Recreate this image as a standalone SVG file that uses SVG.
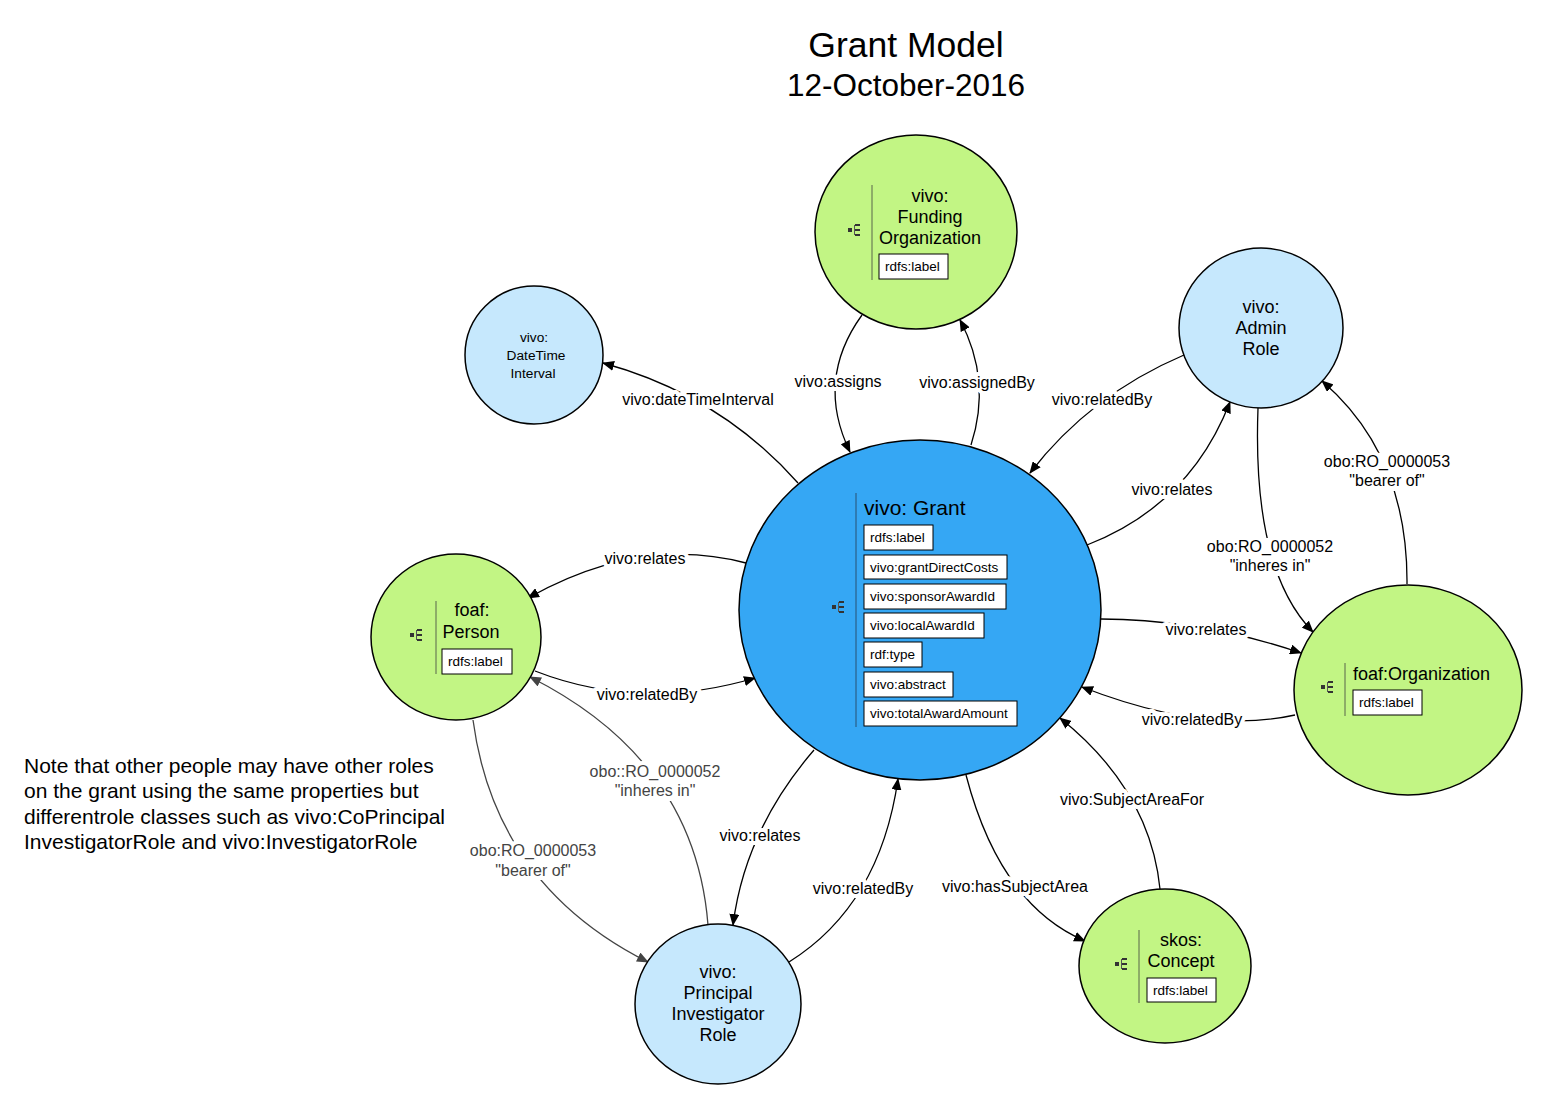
<svg xmlns="http://www.w3.org/2000/svg" width="1554" height="1109" viewBox="0 0 1554 1109">
<defs>
<marker id="ah" viewBox="0 0 12 10" refX="11" refY="5" markerWidth="12" markerHeight="10" markerUnits="userSpaceOnUse" orient="auto"><path d="M0,0 L12,5 L0,10 z" fill="#000"/></marker>
<marker id="ahg" viewBox="0 0 12 10" refX="11" refY="5" markerWidth="12" markerHeight="10" markerUnits="userSpaceOnUse" orient="auto"><path d="M0,0 L12,5 L0,10 z" fill="#444"/></marker>
<g id="icon"><rect x="-9" y="-2" width="4" height="4" fill="#333"/><rect x="-3" y="-5" width="1" height="10" fill="#555"/><rect x="-2" y="-6" width="5" height="2" fill="#333"/><rect x="-2" y="-1" width="5" height="2" fill="#333"/><rect x="-2" y="4" width="5" height="2" fill="#333"/></g>
</defs>
<style>
text{font-family:"Liberation Sans",Arial,sans-serif;fill:#000}
.node{stroke:#000;stroke-width:1.5}
.grant{fill:#35A7F4}
.lb{fill:#C6E8FD}
.gr{fill:#C2F584}
.vl{stroke:#6b7d55;stroke-width:1.2}
.vlb{stroke:#2a5f86;stroke-width:1.2}
.box{fill:#fff;stroke:#000;stroke-width:1}
.bt{font-size:13.5px}
.nt{font-size:18px;text-anchor:middle}
.e{fill:none;stroke:#000;stroke-width:1.3;marker-end:url(#ah)}
.eg{fill:none;stroke:#444;stroke-width:1.3;marker-end:url(#ahg)}
.el{font-size:16px;text-anchor:middle;paint-order:stroke;stroke:#fff;stroke-width:8px;stroke-linejoin:round}
.elg{fill:#444}
.bg{fill:#fff}
</style>
<rect width="1554" height="1109" fill="#fff"/>
<text x="906" y="57" font-size="35.5" text-anchor="middle">Grant Model</text>
<text x="906" y="96" font-size="31.5" text-anchor="middle">12-October-2016</text>
<g id="note" font-size="21">
<text x="24" y="773">Note that other people may have other roles</text>
<text x="24" y="798">on the grant using the same properties but</text>
<text x="24" y="824">differentrole classes such as vivo:CoPrincipal</text>
<text x="24" y="849">InvestigatorRole and vivo:InvestigatorRole</text>
</g>
<g id="connectors">
<path class="e" d="M798,483 Q720,395 603,363"/>
<path class="e" d="M862,315 Q815,380 850,452"/>
<path class="e" d="M971,445 Q992,380 960,320"/>
<path class="e" d="M1184,355 Q1090,395 1030,473"/>
<path class="e" d="M1087,545 Q1190,505 1230,402"/>
<path class="e" d="M1258,408 Q1252,570 1313,632"/>
<path class="e" d="M1407,584 Q1408,455 1322,381"/>
<path class="e" d="M1101,619 Q1205,620 1301,653"/>
<path class="e" d="M1295,715 Q1205,735 1082,687"/>
<path class="e" d="M1160,889 Q1150,790 1060,718"/>
<path class="e" d="M966,775 Q1000,905 1085,941"/>
<path class="e" d="M789,962 Q880,905 898,779"/>
<path class="e" d="M814,750 Q745,830 733,925"/>
<path class="e" d="M746,563 Q640,535 528,598"/>
<path class="e" d="M535,671 Q640,712 755,678"/>
<path class="eg" d="M708,925 Q695,760 530,677"/>
<path class="eg" d="M473,720 Q495,885 648,962"/>
<rect class="bg" x="1210" y="538" width="120" height="38"/>
<rect class="bg" x="1327" y="453" width="120" height="38"/>
<rect class="bg" x="592" y="763" width="126" height="38"/>
<rect class="bg" x="473" y="842" width="120" height="38"/>
<text class="el" x="698" y="405">vivo:dateTimeInterval</text>
<text class="el" x="838" y="387">vivo:assigns</text>
<text class="el" x="977" y="388">vivo:assignedBy</text>
<text class="el" x="1102" y="405">vivo:relatedBy</text>
<text class="el" x="1172" y="495">vivo:relates</text>
<text class="el" x="1270" y="552">obo:RO_0000052</text>
<text class="el" x="1270" y="571">"inheres in"</text>
<text class="el" x="1387" y="467">obo:RO_0000053</text>
<text class="el" x="1387" y="486">"bearer of"</text>
<text class="el" x="1206" y="635">vivo:relates</text>
<text class="el" x="1192" y="725">vivo:relatedBy</text>
<text class="el" x="1132" y="805">vivo:SubjectAreaFor</text>
<text class="el" x="1015" y="892">vivo:hasSubjectArea</text>
<text class="el" x="863" y="894">vivo:relatedBy</text>
<text class="el" x="760" y="841">vivo:relates</text>
<text class="el" x="645" y="564">vivo:relates</text>
<text class="el" x="647" y="700">vivo:relatedBy</text>
<text class="el elg" x="655" y="777">obo::RO_0000052</text>
<text class="el elg" x="655" y="796">"inheres in"</text>
<text class="el elg" x="533" y="856">obo:RO_0000053</text>
<text class="el elg" x="533" y="876">"bearer of"</text>
</g>
<g id="grant">
<ellipse class="node grant" cx="920" cy="610" rx="181" ry="170"/>
<line class="vlb" x1="856" y1="493" x2="856" y2="727"/>
<use href="#icon" x="841" y="607"/>
<text x="864" y="515" font-size="21">vivo: Grant</text>
<rect class="box" x="864" y="525" width="69" height="25"/><text class="bt" x="870" y="542">rdfs:label</text>
<rect class="box" x="864" y="555" width="143" height="24"/><text class="bt" x="870" y="572">vivo:grantDirectCosts</text>
<rect class="box" x="864" y="584" width="142" height="25"/><text class="bt" x="870" y="601">vivo:sponsorAwardId</text>
<rect class="box" x="864" y="613" width="120" height="25"/><text class="bt" x="870" y="630">vivo:localAwardId</text>
<rect class="box" x="864" y="642" width="58" height="25"/><text class="bt" x="870" y="659">rdf:type</text>
<rect class="box" x="864" y="672" width="89" height="25"/><text class="bt" x="870" y="689">vivo:abstract</text>
<rect class="box" x="864" y="701" width="153" height="25"/><text class="bt" x="870" y="718">vivo:totalAwardAmount</text>
</g>
<g id="funding">
<ellipse class="node gr" cx="916" cy="232" rx="101" ry="97"/>
<line class="vl" x1="872" y1="185" x2="872" y2="280"/>
<use href="#icon" x="857" y="230"/>
<text class="nt" x="930" y="202">vivo:</text>
<text class="nt" x="930" y="223">Funding</text>
<text class="nt" x="930" y="244">Organization</text>
<rect class="box" x="879" y="254" width="69" height="25"/><text class="bt" x="885" y="271">rdfs:label</text>
</g>
<g id="datetime">
<ellipse class="node lb" cx="534" cy="355" rx="69" ry="69"/>
<text x="534" y="342" font-size="13.7" text-anchor="middle">vivo:</text>
<text x="536" y="360" font-size="13.7" text-anchor="middle">DateTime</text>
<text x="533" y="378" font-size="13.7" text-anchor="middle">Interval</text>
</g>
<g id="admin">
<ellipse class="node lb" cx="1261" cy="328" rx="82" ry="80"/>
<text class="nt" x="1261" y="313">vivo:</text>
<text class="nt" x="1261" y="334">Admin</text>
<text class="nt" x="1261" y="355">Role</text>
</g>
<g id="person">
<ellipse class="node gr" cx="456" cy="637" rx="85" ry="83"/>
<line class="vl" x1="436" y1="601" x2="436" y2="674"/>
<use href="#icon" x="419" y="635"/>
<text class="nt" x="472" y="616">foaf:</text>
<text class="nt" x="471" y="638">Person</text>
<rect class="box" x="442" y="649" width="70" height="25"/><text class="bt" x="448" y="666">rdfs:label</text>
</g>
<g id="organization">
<ellipse class="node gr" cx="1408" cy="690" rx="114" ry="105"/>
<line class="vl" x1="1345" y1="663" x2="1345" y2="716"/>
<use href="#icon" x="1330" y="687"/>
<text x="1353" y="680" font-size="18">foaf:Organization</text>
<rect class="box" x="1353" y="690" width="69" height="25"/><text class="bt" x="1359" y="707">rdfs:label</text>
</g>
<g id="concept">
<ellipse class="node gr" cx="1165" cy="966" rx="86" ry="77"/>
<line class="vl" x1="1139" y1="930" x2="1139" y2="1003"/>
<use href="#icon" x="1124" y="964"/>
<text class="nt" x="1181" y="946">skos:</text>
<text class="nt" x="1181" y="967">Concept</text>
<rect class="box" x="1147" y="978" width="69" height="24"/><text class="bt" x="1153" y="995">rdfs:label</text>
</g>
<g id="pirole">
<ellipse class="node lb" cx="718" cy="1004" rx="83" ry="80"/>
<text class="nt" x="718" y="978">vivo:</text>
<text class="nt" x="718" y="999">Principal</text>
<text class="nt" x="718" y="1020">Investigator</text>
<text class="nt" x="718" y="1041">Role</text>
</g>
</svg>
